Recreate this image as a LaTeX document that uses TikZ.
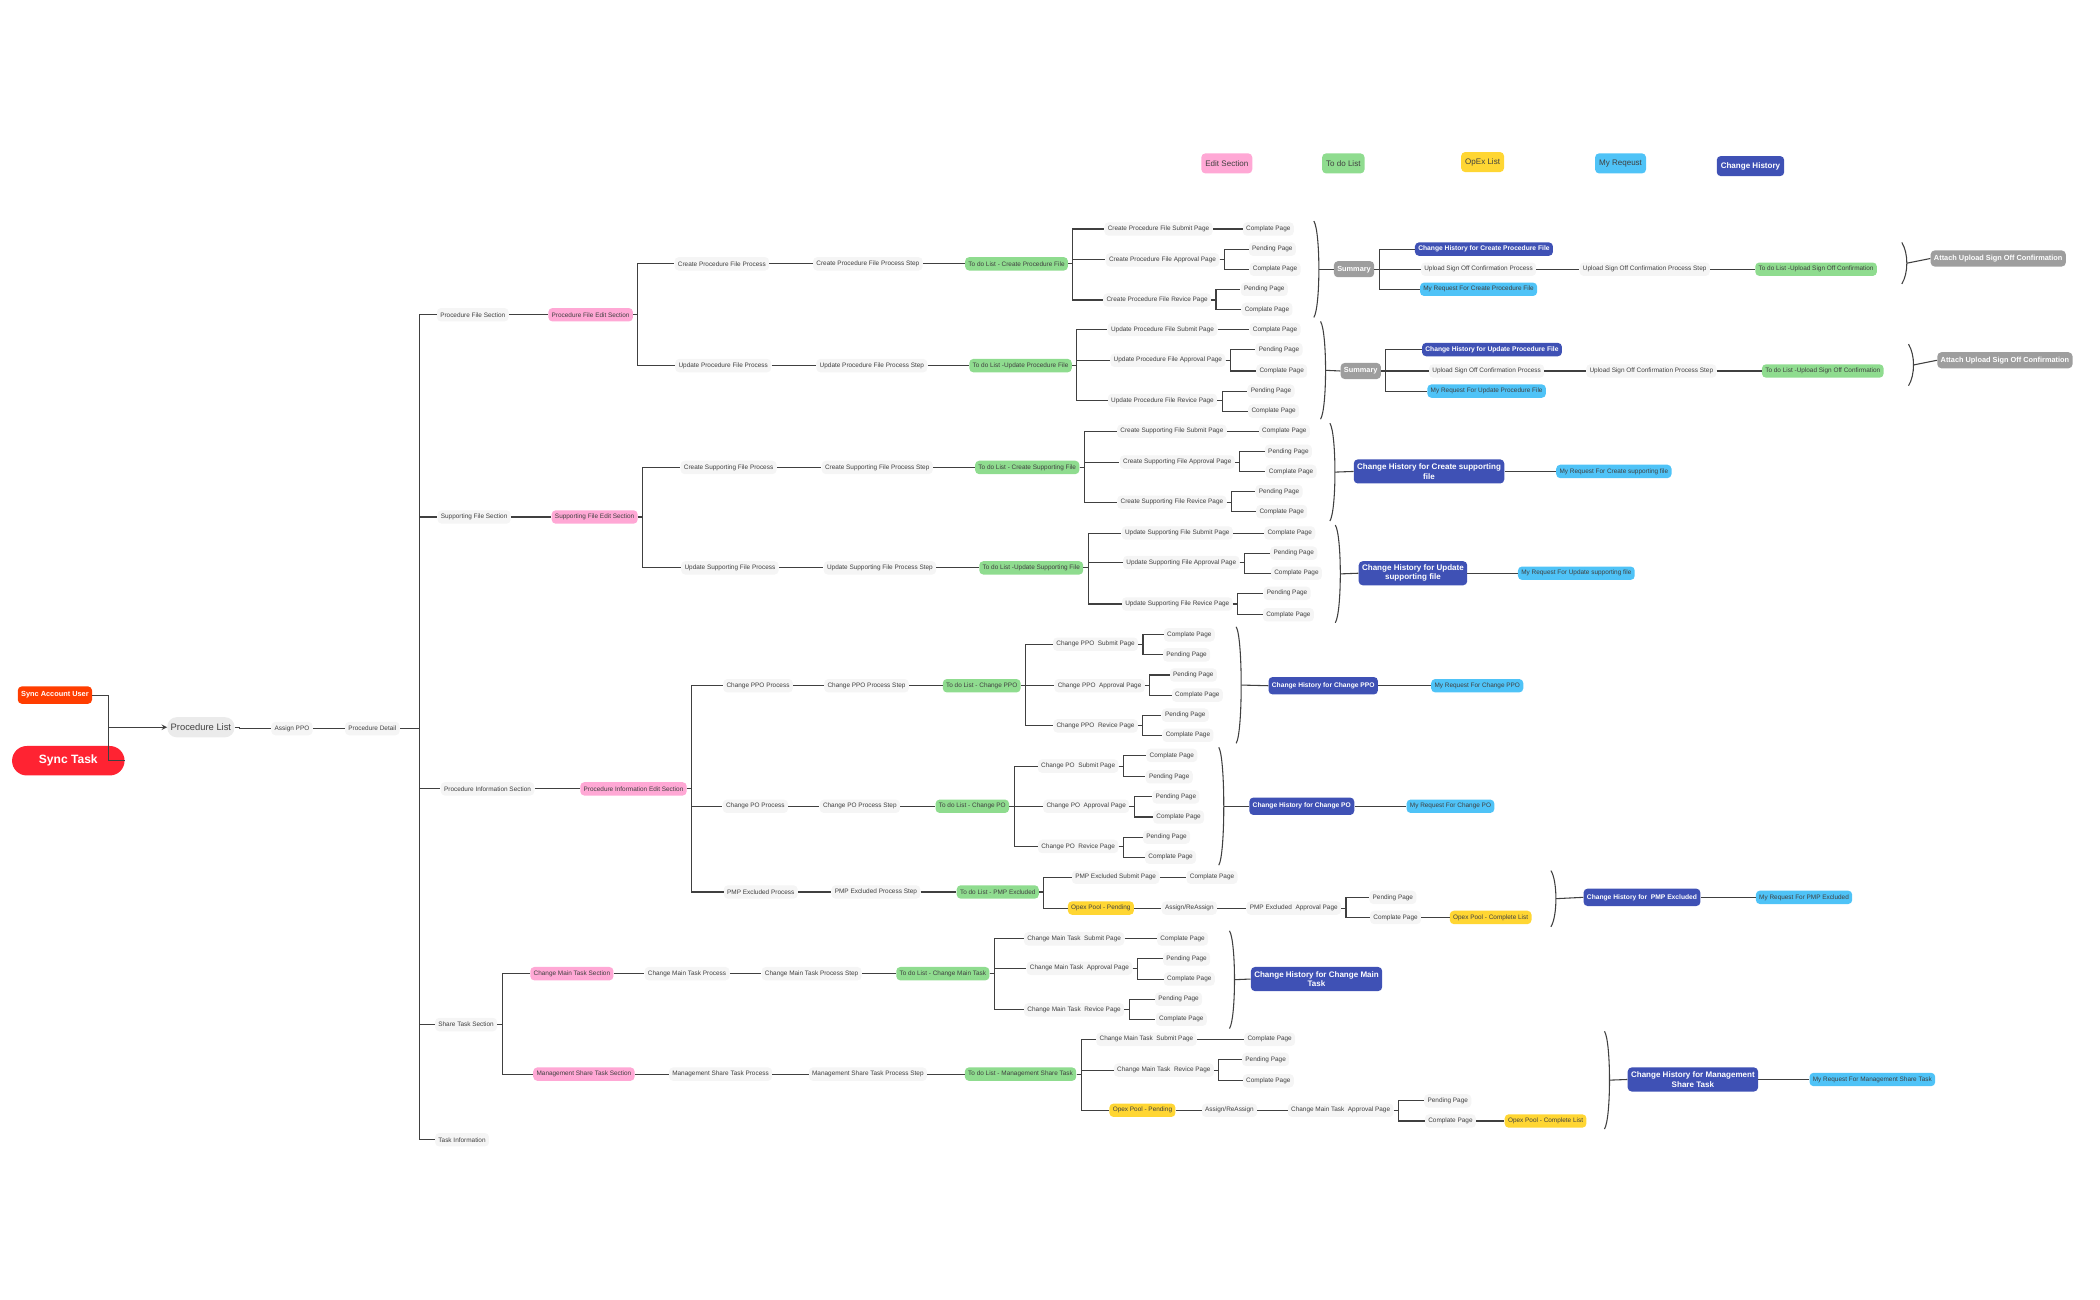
\documentclass[tikz,border=0pt]{standalone}
\usepackage{fontspec}
\setmainfont{Liberation Sans}
\begin{document}
\begin{tikzpicture}[x=1pt,y=-1pt,
 base/.style={rounded corners=3pt,inner xsep=2.5pt,inner ysep=1.5pt,minimum height=10pt,font=\fontsize{4.8}{5.5}\selectfont,text=black!75},
 pl/.style={base,fill=black!4},
 pk/.style={base,fill={rgb,255:red,255;green,168;blue,213}},
 gr/.style={base,fill={rgb,255:red,143;green,220;blue,143}},
 yl/.style={base,fill={rgb,255:red,255;green,214;blue,51}},
 bl/.style={base,fill={rgb,255:red,79;green,195;blue,247}},
 lg/.style={font=\fontsize{6}{7}\selectfont,minimum height=15pt,inner xsep=3pt},
 db/.style={base,fill={rgb,255:red,63;green,81;blue,181},text=white,font=\fontsize{5}{5.5}\selectfont\bfseries},
 dbb/.style={db,font=\fontsize{6}{7}\selectfont\bfseries,align=center,minimum height=18pt},
 gy/.style={base,fill=black!38,text=white,font=\fontsize{5.5}{6}\selectfont\bfseries,minimum height=12pt},
 link/.style={draw=black!75,line width=0.8pt}]
\newcommand\lk[2]{\draw[link] (#1.east) -- ++(3.5,0) |- (#2.west);}
\newcommand\brc[4]{\draw[link] (#1,#2) .. controls (#1+5,#2+8) and (#1+5,#3-8) .. (#1,#3); \coordinate (#4) at (#1+3.8,{(#2+#3)/2});}
\useasboundingbox (0,0) rectangle (1568,970);
% legend
\node[pk,lg] at (916,122) {Edit Section};
\node[gr,lg] at (1003,122) {To do List};
\node[yl,lg] at (1107,121) {OpEx List};
\node[bl,lg] at (1210,122) {My Reqeust};
\node[db,lg,font=\fontsize{6}{7}\selectfont\bfseries] at (1307,124) {Change History};
% root
\node[base,fill={rgb,255:red,255;green,61;blue,0},text=white,font=\fontsize{5.5}{6}\selectfont\bfseries,minimum height=13pt] (sau) at (41,519) {Sync Account User};
\node[base,fill={rgb,255:red,255;green,35;blue,50},text=white,font=\fontsize{9}{10}\selectfont\bfseries,rounded corners=11pt,minimum height=22pt,minimum width=84pt] (st) at (51,568) {Sync Task};
\node[pl,font=\fontsize{7}{8}\selectfont,rounded corners=7pt,minimum height=15pt,fill=black!8] (pls) at (150,543) {Procedure List};
\coordinate (j0) at (81,543);
\draw[link] (sau.east) -| (j0); \draw[link] (st.east) -| (j0);
\draw[link,-stealth] (j0) -- (pls.west);
\node[pl] (appo) at (218,544) {Assign PPO};
\node[pl] (pd) at (278,544) {Procedure Detail};
\lk{pls}{appo}\lk{appo}{pd}
\node[pl] (pfs) at (353,235) {Procedure File Section};
\node[pl] (sfs) at (354,386) {Supporting File Section};
\node[pl] (pis) at (364,589) {Procedure Information Section};
\node[pl] (sts) at (348,765) {Share Task Section};
\node[pl] (ti) at (345,851) {Task Information};
\draw[link] (pd.east) -- (313,544);
\foreach \c in {pfs,sfs,pis,sts,ti}{\draw[link] (313,544) |- (\c.west);}
% ===== Procedure File
\node[pk] (pfe) at (441,235) {Procedure File Edit Section}; \lk{pfs}{pfe}
\node[pl] (cpp) at (539,197) {Create Procedure File Process};
\node[pl] (upp) at (540,273) {Update Procedure File Process};
\lk{pfe}{cpp}\lk{pfe}{upp}
\node[pl] (cpps) at (648,197) {Create Procedure File Process Step}; \lk{cpp}{cpps}
\node[gr] (cpt) at (759,197) {To do List - Create Procedure File}; \lk{cpps}{cpt}
\node[pl] (a1) at (865,171) {Create Procedure File Submit Page};
\node[pl] (a2) at (868,194) {Create Procedure File Approval Page};
\node[pl] (a3) at (864,224) {Create Procedure File Revice Page};
\lk{cpt}{a1}\lk{cpt}{a2}\lk{cpt}{a3}
\node[pl] (a1c) at (947,171) {Complate Page}; \lk{a1}{a1c}
\node[pl] (a2p) at (950,186) {Pending Page}; \node[pl] (a2c) at (952,201) {Complate Page}; \lk{a2}{a2p}\lk{a2}{a2c}
\node[pl] (a3p) at (944,216) {Pending Page}; \node[pl] (a3c) at (946,231) {Complate Page}; \lk{a3}{a3p}\lk{a3}{a3c}
\brc{981}{165}{237}{b1}
\node[gy] (sum1) at (1011,201) {Summary}; \draw[link] (b1) -- (sum1.west);
\node[db] (ch1) at (1108,186) {Change History for Create Procedure File};
\node[pl] (us1) at (1104,201) {Upload Sign Off Confirmation Process};
\node[bl] (mr1) at (1104,216) {My Request For Create Procedure File};
\lk{sum1}{ch1}\lk{sum1}{us1}\lk{sum1}{mr1}
\node[pl] (uss1) at (1228,201) {Upload Sign Off Confirmation Process Step}; \lk{us1}{uss1}
\node[gr] (ut1) at (1356,201) {To do List -Upload Sign Off Confirmation}; \lk{uss1}{ut1}
\brc{1420}{181}{212}{b1a}
\node[gy] (at1) at (1492,193) {Attach Upload Sign Off Confirmation}; \draw[link] (b1a) -- (at1.west);
% update procedure
\node[pl] (upps) at (651,273) {Update Procedure File Process Step}; \lk{upp}{upps}
\node[gr] (upt) at (762,273) {To do List -Update Procedure File}; \lk{upps}{upt}
\node[pl] (c1) at (868,246) {Update Procedure File Submit Page};
\node[pl] (c2) at (872,269) {Update Procedure File Approval Page};
\node[pl] (c3) at (868,299) {Update Procedure File Revice Page};
\lk{upt}{c1}\lk{upt}{c2}\lk{upt}{c3}
\node[pl] (c1c) at (952,246) {Complate Page}; \lk{c1}{c1c}
\node[pl] (c2p) at (955,261) {Pending Page}; \node[pl] (c2c) at (957,277) {Complate Page}; \lk{c2}{c2p}\lk{c2}{c2c}
\node[pl] (c3p) at (949,292) {Pending Page}; \node[pl] (c3c) at (951,307) {Complate Page}; \lk{c3}{c3p}\lk{c3}{c3c}
\brc{986}{240}{313}{b2}
\node[gy] (sum2) at (1016,277) {Summary}; \draw[link] (b2) -- (sum2.west);
\node[db] (ch2) at (1114,261) {Change History for Update Procedure File};
\node[pl] (us2) at (1110,277) {Upload Sign Off Confirmation Process};
\node[bl] (mr2) at (1110,292) {My Request For Update Procedure File};
\lk{sum2}{ch2}\lk{sum2}{us2}\lk{sum2}{mr2}
\node[pl] (uss2) at (1233,277) {Upload Sign Off Confirmation Process Step}; \lk{us2}{uss2}
\node[gr] (ut2) at (1361,277) {To do List -Upload Sign Off Confirmation}; \lk{uss2}{ut2}
\brc{1425}{257}{288}{b2a}
\node[gy] (at2) at (1497,269) {Attach Upload Sign Off Confirmation}; \draw[link] (b2a) -- (at2.west);
% ===== Supporting File
\node[pk] (sfe) at (444,386) {Supporting File Edit Section}; \lk{sfs}{sfe}
\node[pl] (csp) at (544,349) {Create Supporting File Process};
\node[pl] (usp) at (545,424) {Update Supporting File Process};
\lk{sfe}{csp}\lk{sfe}{usp}
\node[pl] (csps) at (655,349) {Create Supporting File Process Step}; \lk{csp}{csps}
\node[gr] (cst) at (767,349) {To do List - Create Supporting File}; \lk{csps}{cst}
\node[pl] (d1) at (875,322) {Create Supporting File Submit Page};
\node[pl] (d2) at (879,345) {Create Supporting File Approval Page};
\node[pl] (d3) at (875,375) {Create Supporting File Revice Page};
\lk{cst}{d1}\lk{cst}{d2}\lk{cst}{d3}
\node[pl] (d1c) at (959,322) {Complate Page}; \lk{d1}{d1c}
\node[pl] (d2p) at (962,337) {Pending Page}; \node[pl] (d2c) at (964,352) {Complate Page}; \lk{d2}{d2p}\lk{d2}{d2c}
\node[pl] (d3p) at (955,367) {Pending Page}; \node[pl] (d3c) at (957,382) {Complate Page}; \lk{d3}{d3p}\lk{d3}{d3c}
\brc{993}{316}{389}{b3}
\node[dbb] (ch3) at (1067,352) {Change History for Create supporting\\file}; \draw[link] (b3) -- (ch3.west);
\node[bl] (mr3) at (1205,352) {My Request For Create supporting file}; \lk{ch3}{mr3}
\node[pl] (usps) at (657,424) {Update Supporting File Process Step}; \lk{usp}{usps}
\node[gr] (ust) at (770,424) {To do List -Update Supporting File}; \lk{usps}{ust}
\node[pl] (e1) at (879,398) {Update Supporting File Submit Page};
\node[pl] (e2) at (882,420) {Update Supporting File Approval Page};
\node[pl] (e3) at (879,451) {Update Supporting File Revice Page};
\lk{ust}{e1}\lk{ust}{e2}\lk{ust}{e3}
\node[pl] (e1c) at (963,398) {Complate Page}; \lk{e1}{e1c}
\node[pl] (e2p) at (966,413) {Pending Page}; \node[pl] (e2c) at (968,428) {Complate Page}; \lk{e2}{e2p}\lk{e2}{e2c}
\node[pl] (e3p) at (961,443) {Pending Page}; \node[pl] (e3c) at (962,459) {Complate Page}; \lk{e3}{e3p}\lk{e3}{e3c}
\brc{997}{392}{465}{b4}
\node[dbb] (ch4) at (1055,428) {Change History for Update\\supporting file}; \draw[link] (b4) -- (ch4.west);
\node[bl] (mr4) at (1177,428) {My Request For Update supporting file}; \lk{ch4}{mr4}
% ===== Procedure Information
\node[pk] (pie) at (473,589) {Procedure Information Edit Section}; \lk{pis}{pie}
\node[pl] (ppp) at (566,512) {Change PPO Process};
\node[pl] (pop) at (564,602) {Change PO Process};
\node[pl] (pmp) at (568,666) {PMP Excluded Process};
\lk{pie}{ppp}\lk{pie}{pop}\lk{pie}{pmp}
\node[pl] (ppps) at (647,512) {Change PPO Process Step}; \lk{ppp}{ppps}
\node[gr] (ppt) at (733,512) {To do List - Change PPO}; \lk{ppps}{ppt}
\node[pl] (f1) at (818,481) {Change PPO\ \ Submit Page};
\node[pl] (f2) at (821,512) {Change PPO\ \ Approval Page};
\node[pl] (f3) at (818,542) {Change PPO\ \ Revice Page};
\lk{ppt}{f1}\lk{ppt}{f2}\lk{ppt}{f3}
\node[pl] (f1c) at (888,474) {Complate Page}; \node[pl] (f1p) at (886,489) {Pending Page}; \lk{f1}{f1c}\lk{f1}{f1p}
\node[pl] (f2p) at (891,504) {Pending Page}; \node[pl] (f2c) at (894,519) {Complate Page}; \lk{f2}{f2p}\lk{f2}{f2c}
\node[pl] (f3p) at (885,534) {Pending Page}; \node[pl] (f3c) at (887,549) {Complate Page}; \lk{f3}{f3p}\lk{f3}{f3c}
\brc{923}{468}{555}{b5}
\node[db,minimum height=13pt] (ch5) at (988,512) {Change History for Change PPO}; \draw[link] (b5) -- (ch5.west);
\node[bl] (mr5) at (1103,512) {My Request For Change PPO}; \lk{ch5}{mr5}
\node[pl] (pops) at (642,602) {Change PO Process Step}; \lk{pop}{pops}
\node[gr] (pot) at (726,602) {To do List - Change PO}; \lk{pops}{pot}
\node[pl] (g1) at (805,572) {Change PO\ \ Submit Page};
\node[pl] (g2) at (811,602) {Change PO\ \ Approval Page};
\node[pl] (g3) at (805,632) {Change PO\ \ Revice Page};
\lk{pot}{g1}\lk{pot}{g2}\lk{pot}{g3}
\node[pl] (g1c) at (875,564) {Complate Page}; \node[pl] (g1p) at (873,580) {Pending Page}; \lk{g1}{g1c}\lk{g1}{g1p}
\node[pl] (g2p) at (878,595) {Pending Page}; \node[pl] (g2c) at (880,610) {Complate Page}; \lk{g2}{g2p}\lk{g2}{g2c}
\node[pl] (g3p) at (871,625) {Pending Page}; \node[pl] (g3c) at (874,640) {Complate Page}; \lk{g3}{g3p}\lk{g3}{g3c}
\brc{910}{558}{646}{b6}
\node[db,minimum height=13pt] (ch6) at (972,602) {Change History for Change PO}; \draw[link] (b6) -- (ch6.west);
\node[bl] (mr6) at (1083,602) {My Request For Change PO}; \lk{ch6}{mr6}
\node[pl] (pmps) at (654,666) {PMP Excluded Process Step}; \lk{pmp}{pmps}
\node[gr] (pmt) at (745,666) {To do List - PMP Excluded}; \lk{pmps}{pmt}
\node[pl] (h1) at (833,655) {PMP Excluded Submit Page};
\node[yl] (h2) at (822,678) {Opex Pool - Pending};
\lk{pmt}{h1}\lk{pmt}{h2}
\node[pl] (h1c) at (905,655) {Complate Page}; \lk{h1}{h1c}
\node[pl] (h2a) at (888,678) {Assign/ReAssign}; \lk{h2}{h2a}
\node[pl] (h2b) at (966,678) {PMP Excluded\ \ Approval Page}; \lk{h2a}{h2b}
\node[pl] (h2p) at (1040,670) {Pending Page}; \node[pl] (h2c) at (1042,685) {Complate Page}; \lk{h2b}{h2p}\lk{h2b}{h2c}
\node[yl] (h2o) at (1113,685) {Opex Pool - Complete List}; \lk{h2c}{h2o}
\brc{1158}{650}{692}{b7}
\node[db,minimum height=13pt] (ch7) at (1226,670) {Change History for\ \ PMP Excluded}; \draw[link] (b7) -- (ch7.west);
\node[bl] (mr7) at (1347,670) {My Request For PMP Excluded}; \lk{ch7}{mr7}
% ===== Share Task
\node[pk] (cms) at (427,727) {Change Main Task Section};
\node[pk] (mss) at (436,802) {Management Share Task Section};
\lk{sts}{cms}\lk{sts}{mss}
\node[pl] (cmp) at (513,727) {Change Main Task Process}; \lk{cms}{cmp}
\node[pl] (cmps) at (606,727) {Change Main Task Process Step}; \lk{cmp}{cmps}
\node[gr] (cmt) at (704,727) {To do List - Change Main Task}; \lk{cmps}{cmt}
\node[pl] (k1) at (802,701) {Change Main Task\ \ Submit Page};
\node[pl] (k2) at (806,723) {Change Main Task\ \ Approval Page};
\node[pl] (k3) at (802,754) {Change Main Task\ \ Revice Page};
\lk{cmt}{k1}\lk{cmt}{k2}\lk{cmt}{k3}
\node[pl] (k1c) at (883,701) {Complate Page}; \lk{k1}{k1c}
\node[pl] (k2p) at (886,716) {Pending Page}; \node[pl] (k2c) at (888,731) {Complate Page}; \lk{k2}{k2p}\lk{k2}{k2c}
\node[pl] (k3p) at (880,746) {Pending Page}; \node[pl] (k3c) at (882,761) {Complate Page}; \lk{k3}{k3p}\lk{k3}{k3c}
\brc{918}{695}{768}{b8}
\node[dbb] (ch8) at (983,731) {Change History for Change Main\\Task}; \draw[link] (b8) -- (ch8.west);
\node[pl] (msp) at (538,802) {Management Share Task Process}; \lk{mss}{msp}
\node[pl] (msps) at (648,802) {Management Share Task Process Step}; \lk{msp}{msps}
\node[gr] (mst) at (762,802) {To do List - Management Share Task}; \lk{msps}{mst}
\node[pl] (m1) at (856,776) {Change Main Task\ \ Submit Page};
\node[pl] (m2) at (869,799) {Change Main Task\ \ Revice Page};
\node[yl] (m3) at (853,829) {Opex Pool - Pending};
\lk{mst}{m1}\lk{mst}{m2}\lk{mst}{m3}
\node[pl] (m1c) at (948,776) {Complate Page}; \lk{m1}{m1c}
\node[pl] (m2p) at (945,791) {Pending Page}; \node[pl] (m2c) at (947,807) {Complate Page}; \lk{m2}{m2p}\lk{m2}{m2c}
\node[pl] (m3a) at (918,829) {Assign/ReAssign}; \lk{m3}{m3a}
\node[pl] (m3b) at (1001,829) {Change Main Task\ \ Approval Page}; \lk{m3a}{m3b}
\node[pl] (m3p) at (1081,822) {Pending Page}; \node[pl] (m3c) at (1083,837) {Complate Page}; \lk{m3b}{m3p}\lk{m3b}{m3c}
\node[yl] (m3o) at (1154,837) {Opex Pool - Complete List}; \lk{m3c}{m3o}
\brc{1198}{770}{843}{b9}
\node[dbb] (ch9) at (1264,806) {Change History for Management\\Share Task}; \draw[link] (b9) -- (ch9.west);
\node[bl] (mr9) at (1398,806) {My Request For Management Share Task}; \lk{ch9}{mr9}
\end{tikzpicture}
\end{document}
